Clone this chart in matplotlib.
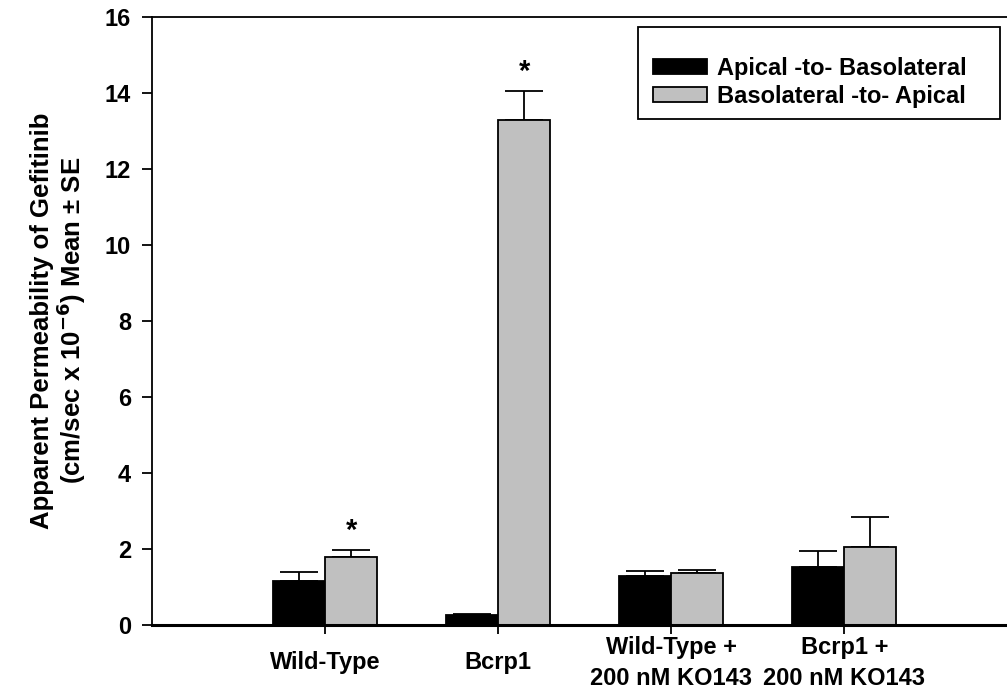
import numpy as np
import matplotlib
matplotlib.use("Agg")
import matplotlib.pyplot as plt
from matplotlib.patches import Rectangle

plt.rcParams['font.family'] = ['Liberation Sans', 'DejaVu Sans']
plt.rcParams['font.weight'] = 'bold'
plt.rcParams['mathtext.default'] = 'bf'

groups = ["Wild-Type", "Bcrp1", "Wild-Type +\n200 nM KO143", "Bcrp1 +\n200 nM KO143"]
ab_mean = [1.15, 0.25, 1.27, 1.52]
ab_se = [0.23, 0.02, 0.13, 0.41]
ba_mean = [1.79, 13.30, 1.37, 2.05]
ba_se = [0.18, 0.75, 0.07, 0.79]
ba_significant = [True, True, False, False]

fig = plt.figure(figsize=(10.07, 6.96), dpi=100)
ax = fig.add_axes([0.151, 0.1027, 0.849, 0.8729])

x = np.arange(1, len(groups) + 1)
w = 0.3

ax.bar(x - w / 2, ab_mean, w, color='black', edgecolor='black', linewidth=1.3,
       label='Apical -to- Basolateral', zorder=2)
ax.bar(x + w / 2, ba_mean, w, color='#c0c0c0', edgecolor='black', linewidth=1.3,
       label='Basolateral -to- Apical', zorder=2)

# upper error bars only
ax.errorbar(x - w / 2, ab_mean, yerr=[np.zeros(len(x)), ab_se], fmt='none',
            ecolor='black', elinewidth=1.3, capsize=14, capthick=1.3, zorder=1)
ax.errorbar(x + w / 2, ba_mean, yerr=[np.zeros(len(x)), ba_se], fmt='none',
            ecolor='black', elinewidth=1.3, capsize=14, capthick=1.3, zorder=1)

for xi, m, s, sig in zip(x, ba_mean, ba_se, ba_significant):
    if sig:
        ax.annotate('*', (xi + w / 2, m + s), xytext=(0, 8), textcoords='offset points',
                    ha='center', va='baseline', fontsize=21, fontweight='bold')

ax.set_xlim(0, 4.94)
ax.set_ylim(0, 16)
ax.set_yticks(np.arange(0, 17, 2))
ax.set_xticks(x)
ax.set_xticklabels(groups, fontsize=17, fontweight='bold', linespacing=1.45, va='center')
ax.tick_params(axis='y', labelsize=17, direction='out', length=7, width=1.3, pad=8)
ax.tick_params(axis='x', direction='out', length=6.5, width=1.3, pad=21)
for lab in ax.get_yticklabels():
    lab.set_fontweight('bold')

ax.spines['right'].set_visible(False)
ax.spines['bottom'].set_linewidth(2.2)
ax.spines['left'].set_linewidth(1.3)
ax.spines['top'].set_linewidth(1.3)

ax.set_ylabel('Apparent Permeability of Gefitinib\n(cm/sec x 10$^{-6}$) Mean ± SE',
              fontsize=18.5, fontweight='bold', linespacing=1.0)
ax.yaxis.set_label_coords(-0.075, 0.5)

# legend without its own frame, box drawn separately
leg = ax.legend(loc='upper left', bbox_to_anchor=(653 / 1007, 1 - 57 / 696),
                bbox_transform=fig.transFigure, borderaxespad=0, borderpad=0,
                fontsize=17, frameon=False, handlelength=2.3, handleheight=0.6,
                handletextpad=0.4, labelspacing=0.2)
for t in leg.get_texts():
    t.set_fontweight('bold')
fig.patches.append(Rectangle((638 / 1007, 1 - 119 / 696), 362 / 1007, 92 / 696,
                             transform=fig.transFigure, fill=False,
                             edgecolor='black', linewidth=1.3))

fig.savefig('out.png', dpi=100)
